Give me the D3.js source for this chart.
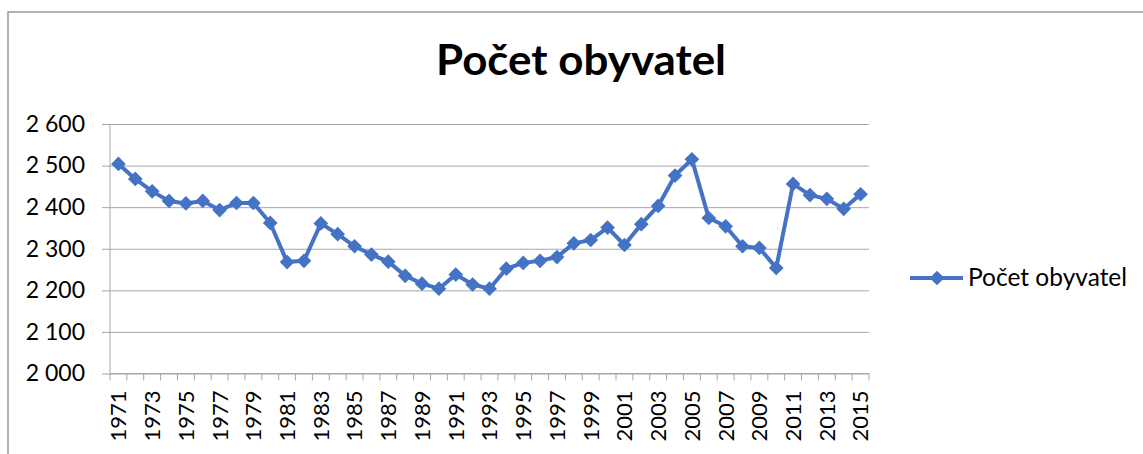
<!DOCTYPE html>
<html><head><meta charset="utf-8">
<script src="https://cdn.jsdelivr.net/npm/d3@7"></script>
<style>body{margin:0;background:#fff}svg{display:block}</style>
</head><body>
<svg id="c" width="1143" height="454"></svg>
<script>
const title = "Počet obyvatel";
const seriesName = "Počet obyvatel";
const years = d3.range(1971, 2016).map(String);
const values = [2504,2468,2438,2415,2409,2415,2393,2410,2410,2362,2268,2271,2361,2335,2306,2286,2269,
  2235,2216,2204,2238,2214,2204,2252,2266,2271,2280,2313,2321,2351,2309,2359,2403,2476,2515,
  2374,2354,2306,2302,2254,2456,2429,2420,2396,2431];
const yTicks = [2000,2100,2200,2300,2400,2500,2600];

const svg = d3.select("#c");
const font = "Lato, 'Open Sans', sans-serif";
const m = {left:110, right:869, top:124, bottom:373.5};
const blue = "#4472C4";
const grid = "#a6a6a6";

svg.append("rect").attr("x",8).attr("y",12).attr("width",1160).attr("height",460)
  .attr("fill","#fff").attr("stroke","#9a9a9a").attr("stroke-width",1.5);

svg.append("text").attr("x",581).attr("y",75).attr("text-anchor","middle")
  .attr("font-family",font).attr("font-weight","bold").attr("font-size",42)
  .attr("textLength",290).attr("lengthAdjust","spacingAndGlyphs")
  .text(title);

const x = d3.scaleBand().domain(years).range([m.left, m.right]);
const y = d3.scaleLinear().domain([2000,2600]).range([m.bottom, m.top]);
const fmt = v => d3.format(",")(v).replace(",", " ");

// gridlines + y axis
const ya = svg.append("g").attr("transform",`translate(${m.left},0)`)
  .call(d3.axisLeft(y).tickValues(yTicks).tickSize(8).tickFormat(fmt).tickPadding(17));
ya.select(".domain").attr("stroke",grid).attr("d",`M0,${m.top}V${m.bottom}`);
ya.selectAll(".tick line").attr("stroke",grid).attr("x2", m.right - m.left).attr("x1",-8);
ya.selectAll(".tick text").attr("font-family",font).attr("font-size",23).attr("fill","#000");

// x axis
const xa = svg.append("g").attr("transform",`translate(0,${m.bottom})`)
  .call(d3.axisBottom(x).tickSize(0).tickFormat((d,i)=> i%2===0 ? d : ""));
xa.select(".domain").attr("stroke",grid).attr("d",`M${m.left},0H${m.right}`);
xa.selectAll(".tick text").attr("font-family",font).attr("font-size",22).attr("fill","#000")
  .attr("transform","rotate(-90)").attr("text-anchor","end").attr("dx","-17").attr("dy","0.36em").attr("y",0).attr("x",0);
// tick marks at band boundaries
svg.append("g").selectAll("line").data(years.concat(["end"])).join("line")
  .attr("x1",(d,i)=> m.left + i*x.step()).attr("x2",(d,i)=> m.left + i*x.step())
  .attr("y1",m.bottom).attr("y2",m.bottom+7).attr("stroke",grid);

const cx = d => x(d) + x.bandwidth()/2;
const line = d3.line().x((d,i)=> cx(years[i])).y(d=> y(d));
svg.append("path").datum(values).attr("d",line).attr("fill","none").attr("stroke",blue)
  .attr("stroke-width",4).attr("stroke-linejoin","round");

const sym = d3.symbol().type(d3.symbolSquare).size(108);
svg.append("g").selectAll("path").data(values).join("path")
  .attr("d",sym).attr("fill",blue)
  .attr("transform",(d,i)=>`translate(${cx(years[i])},${y(d)}) rotate(45)`);

// legend
const lg = svg.append("g");
lg.append("line").attr("x1",910).attr("x2",963).attr("y1",278).attr("y2",278).attr("stroke",blue).attr("stroke-width",4);
lg.append("path").attr("d",sym).attr("fill",blue).attr("transform","translate(937,278) rotate(45)");
lg.append("text").attr("x",968).attr("y",286).attr("font-family",font).attr("font-size",24.5).attr("fill","#000").text(seriesName);
</script>
</body></html>
